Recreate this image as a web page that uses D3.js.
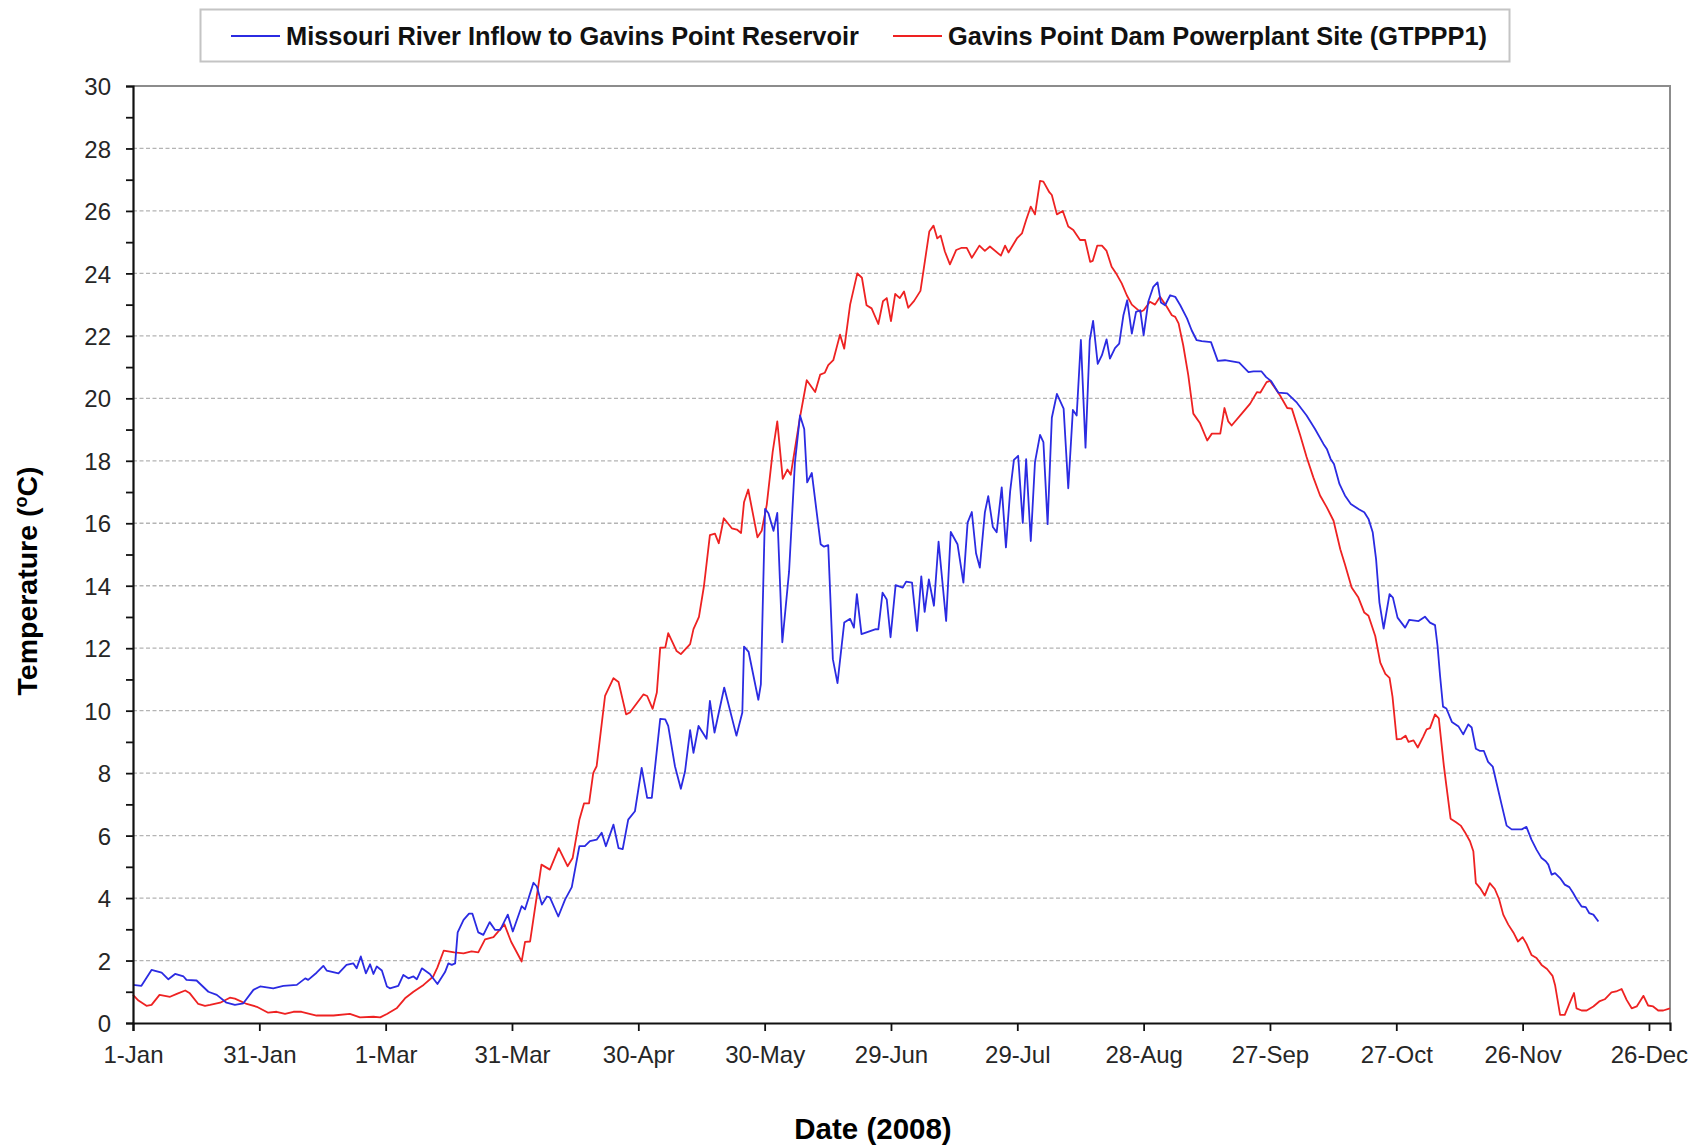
<!DOCTYPE html>
<html>
<head>
<meta charset="utf-8">
<script src="https://cdn.jsdelivr.net/npm/d3@7"></script>
<style>
  body { margin: 0; background: #fff; }
  svg { display: block; font-family: "Liberation Sans", Arial, sans-serif; }
</style>
</head>
<body>
<div id="chart"></div>
<script>
// series names + x tick labels (2008 is a leap year, ticks every 30 days)
var seriesNames = ["Missouri River Inflow to Gavins Point Reservoir",
                   "Gavins Point Dam Powerplant Site (GTPPP1)"];
var tickDays = [0, 30, 60, 90, 120, 150, 180, 210, 240, 270, 300, 330, 360];
var tickLabels = ["1-Jan", "31-Jan", "1-Mar", "31-Mar", "30-Apr", "30-May", "29-Jun",
                  "29-Jul", "28-Aug", "27-Sep", "27-Oct", "26-Nov", "26-Dec"];

// inflow (blue) - day of year (0 = 1-Jan) and temperature in C
var inflowDay = [0, 2, 4.4, 6.8, 8.4, 10, 12, 12.7, 15.1, 17.9, 19.9, 22.2, 24.2, 26.2, 28.6, 30.2,
  33.3, 35.7, 38.9, 40.9, 41.6, 43.6, 45.2, 46, 48.8, 50.7, 52.3, 53.1, 54.1, 55.3, 56.3, 57.1,
  57.9, 59.1, 60.3, 61, 63, 64.2, 65.4, 66.6, 67.4, 68.6, 70.5, 72.3, 74.1, 74.9, 75.7, 76.5,
  77.1, 78.5, 79.8, 80.6, 82, 83.2, 84.7, 86, 87.2, 89, 90.2, 92.3, 93.1, 95.1, 95.9, 97.1,
  98.3, 99, 101, 102.6, 104.2, 106, 107.3, 108.5, 110.1, 111.3, 112.3, 114.1, 115.3, 116.3,
  117.6, 119.2, 120.8, 122.1, 123.2, 125.2, 126.4, 127.1, 128.7, 130.1, 131.1, 132.3, 133.1,
  134.3, 136.2, 137, 138.1, 140.4, 143.3, 144.7, 145.1, 146.2, 148.5, 149.1, 150.1, 150.9,
  152.1, 153, 154.2, 155.8, 157.2, 158.4, 159.4, 160.1, 161.2, 163.3, 164.1, 165.1, 166.2,
  167.3, 168.9, 170.3, 171.2, 171.9, 173, 176.4, 177, 178, 179, 179.9, 181.1, 182.8, 183.6,
  185, 186.2, 187.2, 188, 189, 190.2, 191.3, 193.1, 194.2, 195.8, 197.2, 198.2, 199.2, 200.2,
  201.1, 202.3, 203.1, 204.2, 205.1, 206.3, 207.3, 208.3, 209.2, 210.2, 211.3, 212.1, 213.2,
  214.2, 215.4, 216.2, 217.2, 218.2, 219.4, 221, 222.1, 223.2, 224.1, 225.1, 226.2, 227.2,
  228, 229.1, 230.1, 231.2, 232, 233.2, 234.2, 235.2, 236.1, 237.2, 238.2, 239.2, 240, 241.1,
  242.3, 243.3, 244.1, 245.1, 246.3, 247.5, 248.7, 250.3, 251.4, 252.6, 253.8, 256, 257.6,
  259.3, 262.7, 264.9, 266.1, 268, 269.1, 270.3, 272, 274.1, 276.4, 278.7, 280.7, 282.7, 283.5,
  284.4, 285.2, 286.5, 287.8, 289.2, 291.2, 292.4, 293.4, 294.4, 295.2, 296, 297, 298.4, 299.2,
  300.3, 302.1, 303.1, 305.3, 306.8, 308, 309.2, 309.8, 310.4, 311.1, 311.9, 313.2, 314.8,
  315.9, 317.1, 317.9, 318.9, 319.9, 320.8, 321.8, 322.9, 323.8, 325, 326.2, 327.4, 329.8,
  330.9, 332.1, 333.3, 334.5, 335.5, 336.1, 336.9, 337.7, 338.9, 340, 341.1, 342, 342.8, 344,
  345, 345.8, 346.8, 348];
var inflowTemp = [1.22, 1.19, 1.70, 1.61, 1.40, 1.57, 1.49, 1.38, 1.36, 1.0, 0.9, 0.65, 0.58, 0.63,
  1.06, 1.17, 1.11, 1.19, 1.22, 1.43, 1.38, 1.61, 1.83, 1.68, 1.59, 1.86, 1.91, 1.75, 2.13,
  1.59, 1.88, 1.57, 1.81, 1.68, 1.17, 1.11, 1.19, 1.54, 1.43, 1.49, 1.40, 1.75, 1.57, 1.25,
  1.63, 1.91, 1.86, 1.91, 2.9, 3.3, 3.5, 3.5, 2.9, 2.82, 3.23, 2.98, 2.98, 3.47, 2.93, 3.74,
  3.64, 4.49, 4.37, 3.79, 4.05, 4.02, 3.41, 3.95, 4.35, 5.66, 5.66, 5.82, 5.87, 6.09, 5.66,
  6.35, 5.60, 5.57, 6.51, 6.78, 8.17, 7.21, 7.21, 9.74, 9.72, 9.51, 8.22, 7.5, 8.06, 9.38,
  8.65, 9.51, 9.10, 10.31, 9.3, 10.74, 9.2, 9.94, 12.05, 11.88, 10.35, 10.84, 16.46, 16.32,
  15.76, 16.33, 12.19, 14.45, 17.96, 19.45, 19.02, 17.31, 17.61, 15.33, 15.25, 15.3, 11.65,
  10.88, 12.82, 12.94, 12.66, 13.73, 12.45, 12.61, 12.6, 13.78, 13.56, 12.35, 14.02, 13.94,
  14.13, 14.1, 12.55, 14.3, 13.16, 14.2, 13.36, 15.41, 12.87, 15.72, 15.33, 14.1, 16.02,
  16.36, 15.04, 14.58, 16.35, 16.87, 15.88, 15.71, 17.15, 15.23, 17.02, 18.03, 18.16, 16.01,
  18.05, 15.43, 17.96, 18.83, 18.6, 15.97, 19.38, 20.14, 19.67, 17.12, 19.63, 19.45, 21.87,
  18.42, 21.86, 22.48, 21.1, 21.38, 21.89, 21.27, 21.61, 21.75, 22.66, 23.14, 22.07, 22.77,
  22.82, 22.02, 23.09, 23.57, 23.71, 23.07, 22.98, 23.3, 23.25, 22.98, 22.56, 22.18, 21.86,
  21.83, 21.8, 21.2, 21.22, 21.14, 20.84, 20.86, 20.86, 20.68, 20.55, 20.18, 20.16, 19.86,
  19.45, 19.02, 18.54, 18.38, 18.06, 17.9, 17.26, 16.89, 16.62, 16.44, 16.35, 16.14, 15.71,
  14.85, 13.46, 12.63, 13.73, 13.62, 12.98, 12.66, 12.91, 12.87, 13.01, 12.82, 12.74, 12.07,
  11.11, 10.13, 10.07, 9.64, 9.49, 9.24, 9.56, 9.46, 8.78, 8.71, 8.71, 8.36, 8.21, 7.69, 7.0,
  6.32, 6.2, 6.2, 6.28, 5.87, 5.55, 5.28, 5.18, 5.07, 4.75, 4.8, 4.64, 4.43, 4.35, 4.16,
  3.97, 3.73, 3.71, 3.52, 3.47, 3.25];

// powerplant site (red)
var plantDay = [0, 1.3, 3.2, 4.4, 6.3, 8.8, 10.4, 12.4, 13.5, 15.5, 17.1, 18.3, 20.7, 23, 24.2,
  27, 29.4, 32.1, 34.1, 36.1, 38.1, 40, 43.6, 47.6, 51.5, 53.9, 57.1, 58.7, 60.3, 62.6, 64.6,
  66.6, 69, 71.3, 72.3, 73.8, 76.3, 78.5, 80.4, 82, 83.6, 85.6, 88.2, 89.8, 92.3, 93.1, 94.3,
  97, 99, 101.1, 103.2, 104.4, 106, 107.1, 108.3, 109.3, 110.1, 112.1, 114.1, 115.3, 117.1,
  118, 121.2, 122.1, 123.4, 124.4, 125.2, 126.4, 127.1, 129.1, 130.1, 132.3, 133.1, 134.4,
  135.6, 137, 138.2, 139.1, 140.3, 142.2, 143.4, 144.4, 145.1, 146.1, 148.3, 149.3, 150.5,
  151.9, 153, 154.3, 155.4, 156.2, 158.4, 160, 162, 163.2, 164.3, 165.1, 166.3, 167.9, 168.9,
  170.3, 172, 173.1, 174.2, 175.4, 177, 178.1, 179, 180, 181, 182.1, 183.1, 184.1, 185.5, 187,
  187.8, 189.1, 190.1, 191, 191.8, 192.8, 194, 195.5, 196.8, 198, 199.2, 201, 202.3, 203.5,
  206.1, 207.1, 207.9, 209.9, 211.1, 212.1, 213.2, 214.2, 215.4, 216.2, 217.6, 218.2, 219.4,
  220.8, 222.1, 223.3, 224.9, 226.1, 227.3, 227.9, 229, 230.1, 231.2, 232.4, 233.6, 234.8,
  236, 237.2, 239.2, 240, 241.5, 242.7, 243.9, 245.5, 246.7, 247.5, 248.3, 249.4, 250.6,
  251.8, 253.4, 255.1, 256.2, 258.2, 259.2, 260.1, 260.9, 263.3, 265.3, 266.9, 267.7, 269.2,
  270, 271.2, 272.4, 274.1, 275.2, 277.2, 278.7, 280.3, 281.9, 283.5, 285.1, 286.7, 287.8,
  289.4, 291, 292.4, 293.4, 295, 296.2, 297.4, 298.4, 299.1, 300.1, 301.2, 302.2, 302.9,
  304.1, 305.1, 306.4, 307.2, 308, 309.2, 310.1, 311.3, 311.9, 312.9, 314.2, 315.3, 316.3,
  317.5, 318.3, 318.9, 319.9, 321, 322.2, 323.4, 324.4, 325.4, 326.6, 327.8, 328.9, 330,
  330.9, 332.1, 333.3, 334.5, 335.8, 337.1, 337.7, 338.9, 340, 341.1, 342.2, 342.8, 344,
  345.2, 346.8, 348.2, 349.5, 351.1, 352.2, 353.5, 354.7, 355.9, 357.1, 358.7, 359.8, 361,
  362.2, 363.4, 365];
var plantTemp = [0.90, 0.72, 0.55, 0.58, 0.90, 0.84, 0.93, 1.04, 0.95, 0.61, 0.55, 0.58, 0.65,
  0.81, 0.78, 0.61, 0.52, 0.33, 0.36, 0.29, 0.36, 0.36, 0.24, 0.24, 0.29, 0.18, 0.20, 0.18,
  0.29, 0.47, 0.79, 1.0, 1.22, 1.49, 1.78, 2.32, 2.26, 2.23, 2.29, 2.26, 2.68, 2.75, 3.16,
  2.6, 1.97, 2.6, 2.61, 5.07, 4.91, 5.6, 5.02, 5.28, 6.51, 7.03, 7.03, 8.01, 8.22, 10.47,
  11.04, 10.92, 9.88, 9.94, 10.52, 10.47, 10.06, 10.58, 12.02, 12.02, 12.48, 11.91, 11.81,
  12.13, 12.61, 13.0, 14.0, 15.62, 15.67, 15.36, 16.16, 15.84, 15.8, 15.69, 16.67, 17.08,
  15.55, 15.76, 16.59, 18.28, 19.26, 17.42, 17.72, 17.55, 19.4, 20.58, 20.2, 20.76, 20.82,
  21.06, 21.22, 22.04, 21.59, 23.0, 24.0, 23.86, 22.98, 22.88, 22.38, 23.11, 23.21, 22.47,
  23.34, 23.21, 23.42, 22.9, 23.12, 23.44, 24.16, 25.34, 25.53, 25.12, 25.21, 24.7, 24.29,
  24.75, 24.82, 24.82, 24.5, 24.89, 24.72, 24.86, 24.57, 24.89, 24.67, 25.12, 25.28, 25.71,
  26.14, 25.89, 26.96, 26.94, 26.6, 26.51, 25.89, 26.0, 25.5, 25.39, 25.07, 25.07, 24.37,
  24.4, 24.89, 24.89, 24.72, 24.21, 23.97, 23.68, 23.3, 23.0, 22.77, 22.82, 23.09, 23.0,
  23.25, 22.93, 22.66, 22.61, 22.4, 21.7, 20.74, 19.51, 19.2, 18.65, 18.87, 18.87, 19.69,
  19.26, 19.13, 19.51, 19.83, 20.2, 20.18, 20.52, 20.56, 20.33, 20.09, 19.69, 19.67, 18.81,
  18.12, 17.47, 16.89, 16.51, 16.08, 15.17, 14.69, 13.94, 13.62, 13.14, 13.04, 12.39, 11.54,
  11.18, 11.05, 10.45, 9.08, 9.1, 9.2, 9.0, 9.05, 8.82, 9.17, 9.4, 9.44, 9.88, 9.75, 8.23,
  7.59, 6.54, 6.43, 6.32, 6.11, 5.82, 5.5, 4.48, 4.32, 4.08, 4.48, 4.29, 3.97, 3.47, 3.15,
  2.9, 2.61, 2.75, 2.54, 2.18, 2.08, 1.86, 1.73, 1.51, 1.22, 0.26, 0.26, 0.61, 0.96, 0.47,
  0.40, 0.40, 0.53, 0.69, 0.76, 0.98, 1.01, 1.09, 0.74, 0.47, 0.53, 0.87, 0.56, 0.53, 0.40,
  0.40, 0.47];

var width = 1702, height = 1146;
var margin = {top: 86, right: 32, bottom: 123, left: 133};
var plotW = width - margin.left - margin.right,
    plotH = height - margin.top - margin.bottom;

var svg = d3.select("#chart")
  .append("svg")
    .attr("width", width)
    .attr("height", height);

var g = svg.append("g")
    .attr("transform", "translate(" + margin.left + "," + margin.top + ")");

var x = d3.scaleLinear().domain([0, 365]).range([0, plotW]);
var y = d3.scaleLinear().domain([0, 30]).range([plotH, 0]);

// dashed grid every 2 deg
g.append("g")
  .selectAll("line")
  .data(d3.range(2, 30, 2))
  .enter()
  .append("line")
    .attr("x1", 0)
    .attr("x2", plotW)
    .attr("y1", d => y(d))
    .attr("y2", d => y(d))
    .attr("stroke", "#b4b4b4")
    .attr("stroke-width", 1.3)
    .attr("stroke-dasharray", "4,2.5");

// top + right border of the plot area
g.append("path")
  .attr("d", "M0," + y(30) + "H" + plotW + "V" + plotH)
  .attr("fill", "none")
  .attr("stroke", "#8c8c8c")
  .attr("stroke-width", 2);

// series
var series = [
  {name: seriesNames[0], day: inflowDay, temp: inflowTemp, color: "#2b2be2"},
  {name: seriesNames[1], day: plantDay, temp: plantTemp, color: "#ee2222"}
];

var line = d3.line()
  .x(d => x(d[0]))
  .y(d => y(d[1]));

series.slice().reverse().forEach(function(s) {
  g.append("path")
    .datum(d3.zip(s.day, s.temp))
    .attr("fill", "none")
    .attr("stroke", s.color)
    .attr("stroke-width", 1.8)
    .attr("stroke-linejoin", "round")
    .attr("d", line);
});

// y axis: minor ticks every 1, labels every 2
var yAxis = g.append("g")
  .call(d3.axisLeft(y)
    .tickValues(d3.range(0, 31, 1))
    .tickSize(7)
    .tickPadding(15)
    .tickFormat(d => d % 2 === 0 ? d : ""));

// x axis
var xAxis = g.append("g")
  .attr("transform", "translate(0," + plotH + ")")
  .call(d3.axisBottom(x)
    .tickValues(tickDays)
    .tickSize(8)
    .tickPadding(15)
    .tickFormat((d, i) => tickLabels[i]));

[yAxis, xAxis].forEach(function(a) {
  a.select(".domain").attr("stroke", "#111").attr("stroke-width", 2.2);
  a.selectAll(".tick line").attr("stroke", "#111").attr("stroke-width", 1.8);
  a.selectAll(".tick text")
    .attr("fill", "#262626")
    .style("font-size", "24px")
    .style("font-family", "'Liberation Sans', Arial, sans-serif");
});
yAxis.selectAll(".tick text").attr("dy", "0.36em");
xAxis.selectAll(".tick text").attr("dy", "0.71em");

// axis titles
svg.append("text")
  .attr("transform", "translate(37,581) rotate(-90)")
  .attr("text-anchor", "middle")
  .style("font-size", "28.5px")
  .style("font-weight", "bold")
  .text("Temperature (")
  .append("tspan")
    .attr("baseline-shift", "super")
    .style("font-size", "18px")
    .text("o")
  .select(function() { return this.parentNode; })
  .append("tspan")
    .text("C)");

svg.append("text")
  .attr("x", 873)
  .attr("y", 1139)
  .attr("text-anchor", "middle")
  .style("font-size", "29.5px")
  .style("font-weight", "bold")
  .text("Date (2008)");

// legend
var legend = svg.append("g");
legend.append("rect")
  .attr("x", 200.5)
  .attr("y", 9.5)
  .attr("width", 1309)
  .attr("height", 52)
  .attr("fill", "#fff")
  .attr("stroke", "#c4c4c4")
  .attr("stroke-width", 2);

var legendX = [231, 893];
series.forEach(function(s, i) {
  var lg = legend.append("g").attr("transform", "translate(" + legendX[i] + ",36)");
  lg.append("line")
    .attr("x1", 0)
    .attr("x2", 49)
    .attr("stroke", s.color)
    .attr("stroke-width", 1.8);
  lg.append("text")
    .attr("x", 55)
    .attr("dy", "0.36em")
    .style("font-size", "25.4px")
    .style("font-weight", "bold")
    .attr("fill", "#111")
    .text(s.name);
});
</script>
</body>
</html>
